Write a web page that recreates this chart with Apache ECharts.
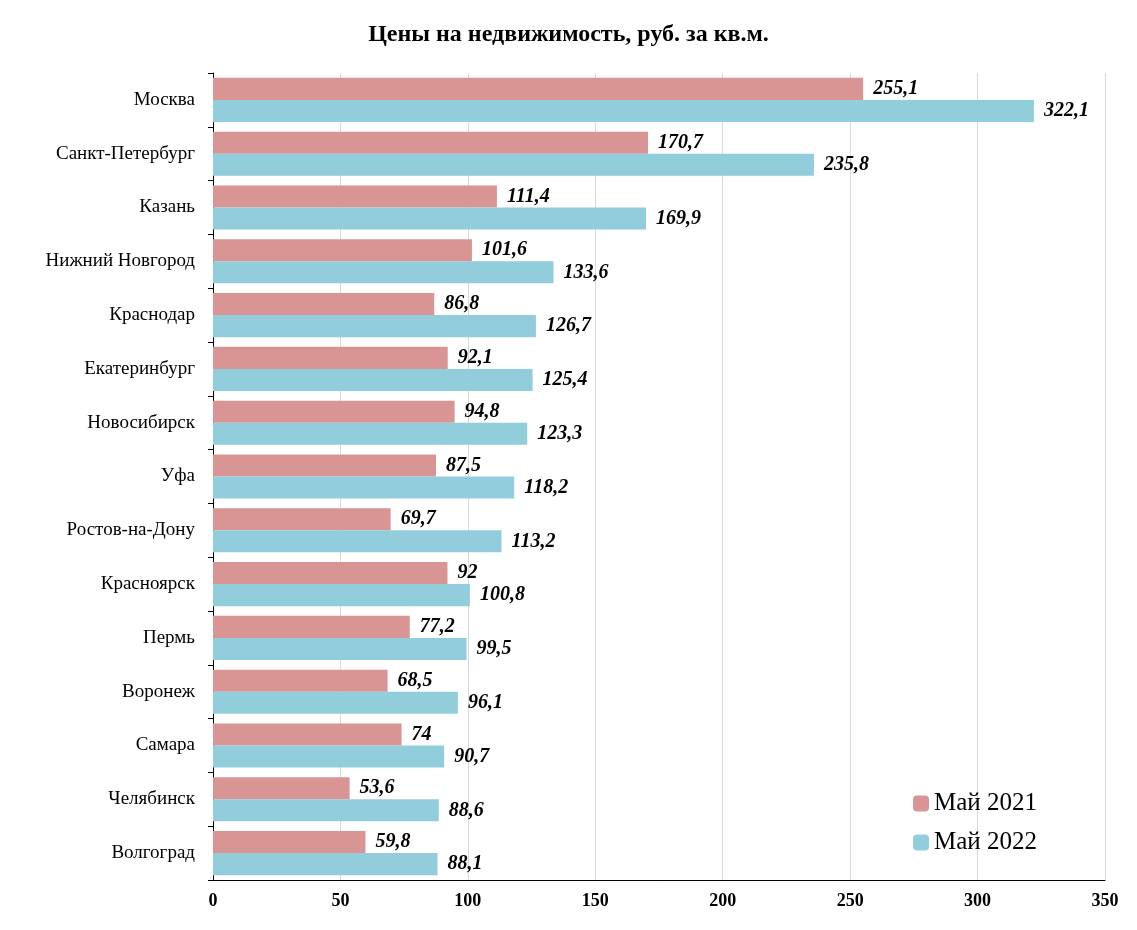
<!DOCTYPE html>
<html><head><meta charset="utf-8">
<script src="https://cdn.jsdelivr.net/npm/echarts@6/dist/echarts.min.js"></script>
<style>html,body{margin:0;padding:0;background:#fff}#c{width:1137px;height:930px}</style>
</head><body><div id="c"></div>
<script>
var cities = ['Москва','Санкт-Петербург','Казань','Нижний Новгород','Краснодар','Екатеринбург','Новосибирск','Уфа','Ростов-на-Дону','Красноярск','Пермь','Воронеж','Самара','Челябинск','Волгоград'];
var may2021 = [255.1,170.7,111.4,101.6,86.8,92.1,94.8,87.5,69.7,92,77.2,68.5,74,53.6,59.8];
var may2022 = [322.1,235.8,169.9,133.6,126.7,125.4,123.3,118.2,113.2,100.8,99.5,96.1,90.7,88.6,88.1];

var font = 'Liberation Serif';
var lbl = {
  show: true, position: 'right', distance: 10, color: '#000',
  fontFamily: font, fontSize: 20, fontWeight: 'bold', fontStyle: 'italic',
  formatter: function (p) { return String(p.value).replace('.', ','); }
};
var chart = echarts.init(document.getElementById('c'));
chart.setOption({
  animation: false,
  title: { text: 'Цены на недвижимость, руб. за кв.м.', left: 'center', top: 18,
    textStyle: { fontFamily: font, fontSize: 24, fontWeight: 'bold', color: '#000' } },
  legend: { orient: 'vertical', right: 95, bottom: 70, itemWidth: 16, itemHeight: 16, itemGap: 14,
    textStyle: { fontFamily: font, fontSize: 25, color: '#000' },
    data: ['Май 2021', 'Май 2022'] },
  grid: { left: 213, right: 32, top: 73, bottom: 50 },
  xAxis: { type: 'value', min: 0, max: 350, interval: 50,
    axisLine: { show: true, lineStyle: { color: '#000' } },
    axisTick: { show: false },
    splitLine: { lineStyle: { color: '#d9d9d9' } },
    axisLabel: { fontFamily: font, fontSize: 18, fontWeight: 'bold', color: '#000', margin: 12 } },
  yAxis: { type: 'category', data: cities, inverse: true,
    axisLine: { lineStyle: { color: '#000' } },
    axisTick: { show: true, length: 5, lineStyle: { color: '#000' } },
    axisLabel: { fontFamily: font, fontSize: 19, color: '#000', margin: 18 } },
  series: [
    { name: 'Май 2021', type: 'bar', data: may2021, barGap: '0%', barCategoryGap: '18%',
      itemStyle: { color: '#D99594' }, label: lbl },
    { name: 'Май 2022', type: 'bar', data: may2022, barGap: '0%', barCategoryGap: '18%',
      itemStyle: { color: '#92CDDC' }, label: lbl }
  ]
});
</script></body></html>
